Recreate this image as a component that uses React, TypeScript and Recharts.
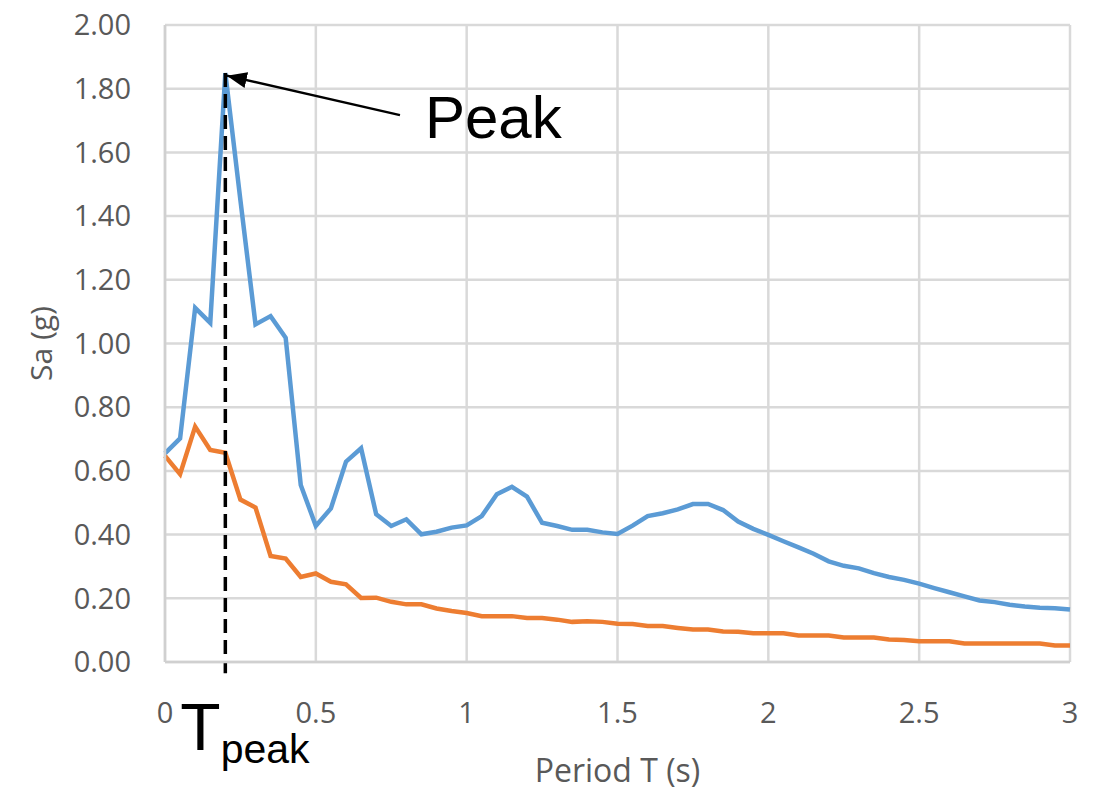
import {
  CartesianGrid,
  Label,
  Line,
  LineChart,
  ReferenceLine,
  XAxis,
  YAxis,
} from 'recharts';

const periods = [
  0, 0.05, 0.1, 0.15, 0.2, 0.25, 0.3, 0.35, 0.4, 0.45, 0.5, 0.55, 0.6, 0.65, 0.7, 0.75,
  0.8, 0.85, 0.9, 0.95, 1, 1.05, 1.1, 1.15, 1.2, 1.25, 1.3, 1.35, 1.4, 1.45, 1.5, 1.55,
  1.6, 1.65, 1.7, 1.75, 1.8, 1.85, 1.9, 1.95, 2, 2.05, 2.1, 2.15, 2.2, 2.25, 2.3, 2.35,
  2.4, 2.45, 2.5, 2.55, 2.6, 2.65, 2.7, 2.75, 2.8, 2.85, 2.9, 2.95, 3,
];

// blue: recorded spectrum
const saRecord = [
  0.655, 0.702, 1.112, 1.065, 1.849, 1.45, 1.06, 1.086, 1.018, 0.556, 0.427, 0.482, 0.629,
  0.671, 0.464, 0.427, 0.448, 0.401, 0.409, 0.422, 0.429, 0.458, 0.527, 0.55, 0.519, 0.437,
  0.427, 0.415, 0.415, 0.407, 0.402, 0.428, 0.458, 0.467, 0.479, 0.496, 0.496, 0.477, 0.441,
  0.418, 0.399, 0.379, 0.36, 0.34, 0.316, 0.302, 0.294, 0.279, 0.267, 0.258, 0.246, 0.232,
  0.219, 0.206, 0.193, 0.188, 0.18, 0.174, 0.17, 0.169, 0.165,
];

// orange: smoother spectrum
const saSmooth = [
  0.647, 0.59, 0.739, 0.666, 0.657, 0.51, 0.485, 0.333, 0.325, 0.267, 0.278, 0.252, 0.244,
  0.201, 0.202, 0.189, 0.181, 0.181, 0.168, 0.16, 0.154, 0.144, 0.144, 0.144, 0.138, 0.138,
  0.133, 0.126, 0.128, 0.126, 0.12, 0.119, 0.113, 0.113, 0.107, 0.102, 0.102, 0.096, 0.095,
  0.09, 0.09, 0.09, 0.083, 0.083, 0.083, 0.077, 0.077, 0.077, 0.071, 0.069, 0.065, 0.065,
  0.065, 0.058, 0.058, 0.058, 0.058, 0.058, 0.058, 0.052, 0.052,
];

const xTicks = [0, 0.5, 1, 1.5, 2, 2.5, 3];
const yTicks = [0, 0.2, 0.4, 0.6, 0.8, 1, 1.2, 1.4, 1.6, 1.8, 2];

const data = periods.map((T, i) => ({ T, record: saRecord[i], smooth: saSmooth[i] }));

const peakIdx = saRecord.indexOf(Math.max(...saRecord));
const peakT = periods[peakIdx];
const peakSa = saRecord[peakIdx];

const tickStyle = { fontSize: 29, fill: '#595959' };

function YTitle(props: any) {
  const { viewBox } = props;
  const cx = 32;
  const cy = viewBox.y + viewBox.height / 2;
  return (
    <text
      x={cx}
      y={cy}
      transform={`rotate(-90, ${cx}, ${cy})`}
      textAnchor="middle"
      dominantBaseline="central"
      fontSize={30}
      fill="#595959"
    >
      Sa (g)
    </text>
  );
}

function PeakArrow(props: any) {
  const { x1, y1, x2, y2 } = props;
  return (
    <g>
      <line x1={x1} y1={y1} x2={x2} y2={y2} stroke="#000" strokeWidth={2.5} markerEnd="url(#arrowHead)" />
      <text x={x1 + 25} y={y1 + 23} fontSize={60} fontFamily="Liberation Sans" fill="#000">
        Peak
      </text>
    </g>
  );
}

function PeakDrop(props: any) {
  const { x1, y1, x2, y2 } = props;
  const top = Math.min(y1, y2);
  const bottom = Math.max(y1, y2);
  return (
    <g>
      <line x1={x1} y1={top} x2={x2} y2={bottom} stroke="#000" strokeWidth={3.5} strokeDasharray="14 7" />
      <text x={x1 - 45} y={bottom + 77} fontFamily="Liberation Sans" fill="#000">
        <tspan fontSize={66}>T</tspan>
        <tspan fontSize={41} dy={13}>peak</tspan>
      </text>
    </g>
  );
}

export default function App() {
  return (
    <div style={{ width: 1086, height: 785, fontFamily: 'Open Sans' }}>
      <LineChart
        width={1086}
        height={785}
        data={data}
        margin={{ top: 17, right: 24, left: 0, bottom: 0 }}
        style={{ overflow: 'visible' }}
      >
        <defs>
          <marker
            id="arrowHead"
            markerUnits="userSpaceOnUse"
            markerWidth={22}
            markerHeight={16}
            refX={20}
            refY={8}
            orient="auto"
          >
            <path d="M0,0 L20,8 L0,16 z" fill="#000" />
          </marker>
        </defs>
        <CartesianGrid stroke="#D9D9D9" strokeWidth={2.5} />
        <XAxis
          dataKey="T"
          type="number"
          domain={[0, 3]}
          ticks={xTicks}
          height={131}
          tick={tickStyle}
          tickLine={false}
          tickMargin={34}
          axisLine={{ stroke: '#D0D0D0', strokeWidth: 2.5 }}
        >
          <Label value="Period T (s)" position="insideBottom" offset={11} fontSize={32} fill="#595959" />
        </XAxis>
        <YAxis
          type="number"
          domain={[0, 2]}
          ticks={yTicks}
          width={157}
          tick={tickStyle}
          tickLine={false}
          tickMargin={28}
          tickFormatter={(v: number) => v.toFixed(2)}
          axisLine={{ stroke: '#D0D0D0', strokeWidth: 2.5 }}
        >
          <Label content={YTitle} />
        </YAxis>
        <Line
          type="linear"
          dataKey="record"
          stroke="#5B9BD5"
          strokeWidth={4.5}
          dot={false}
          isAnimationActive={false}
        />
        <Line
          type="linear"
          dataKey="smooth"
          stroke="#ED7D31"
          strokeWidth={4.5}
          dot={false}
          isAnimationActive={false}
        />
        <ReferenceLine
          segment={[{ x: peakT, y: peakSa }, { x: peakT, y: -0.035 }]}
          ifOverflow="visible"
          shape={PeakDrop}
        />
        <ReferenceLine
          segment={[{ x: 0.779, y: 1.717 }, { x: peakT + 0.005, y: peakSa - 0.008 }]}
          ifOverflow="visible"
          shape={PeakArrow}
        />
      </LineChart>
    </div>
  );
}
